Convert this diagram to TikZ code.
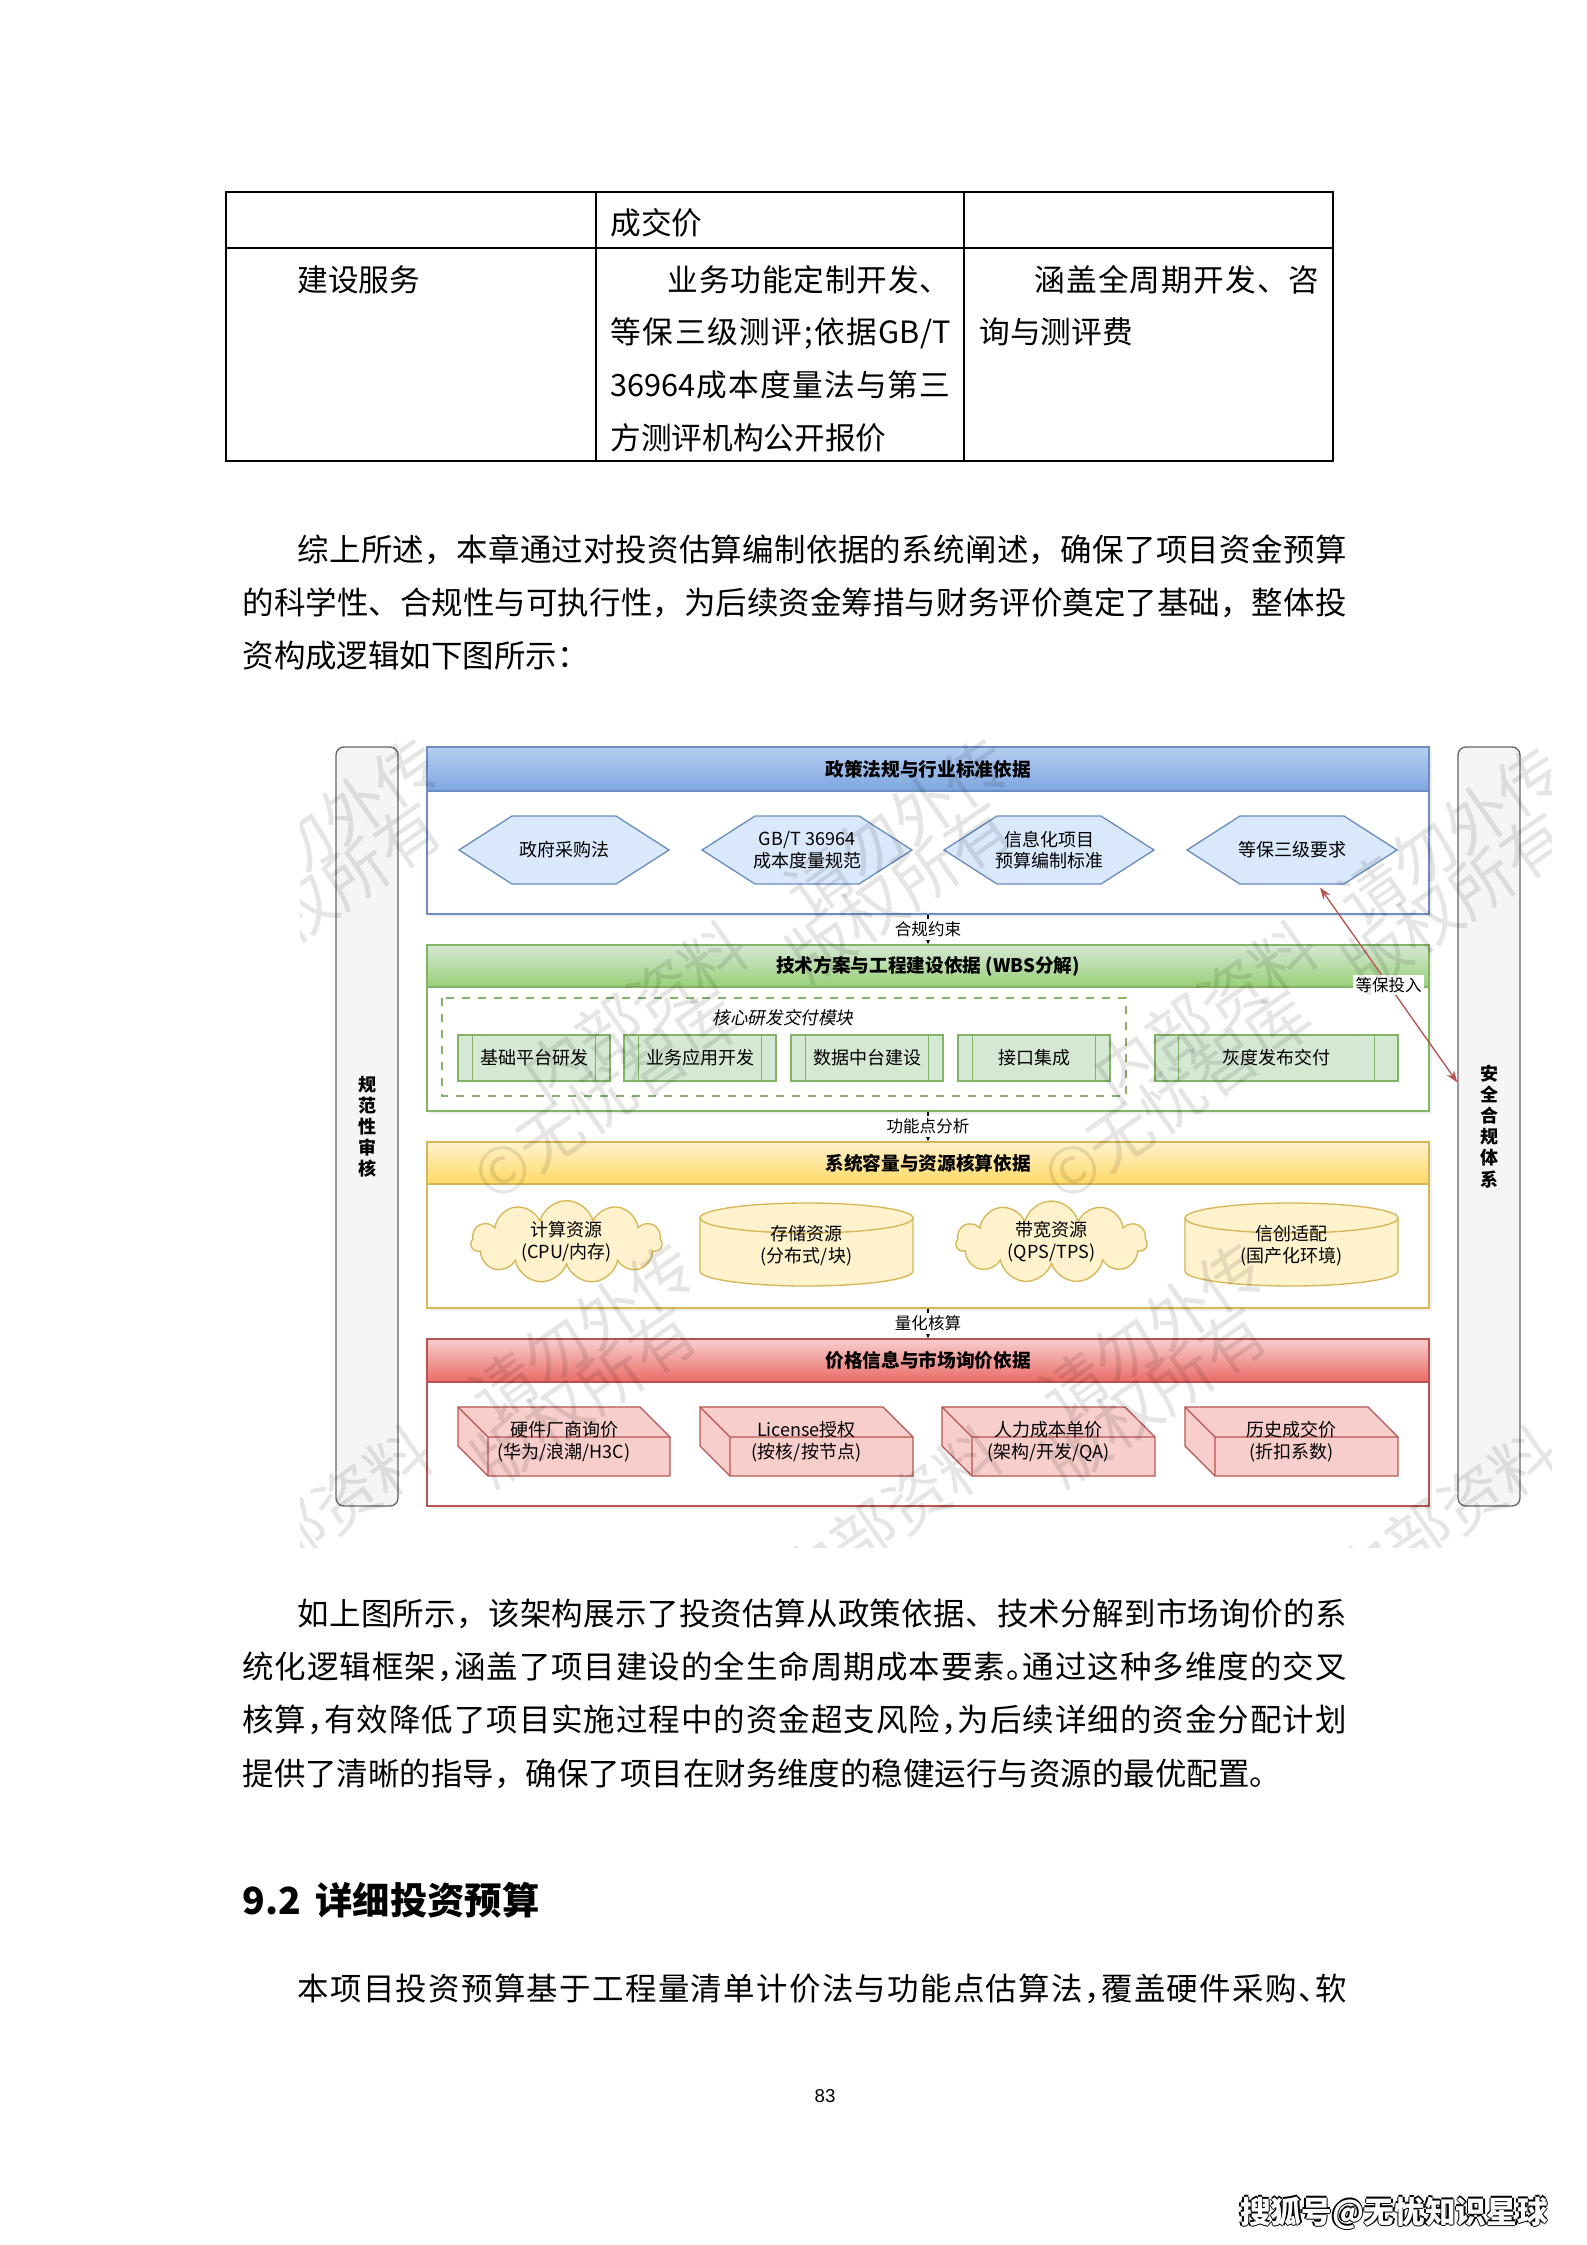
\documentclass[tikz,border=0pt]{standalone}
\usepackage{fontspec}
\setmainfont{Noto Sans CJK SC}
\newfontfamily\dsf{Noto Sans CJK SC}
\newfontfamily\dsfit{Noto Sans CJK SC}[FakeSlant=0.2]
\newfontfamily\lsans{Liberation Sans}
\usetikzlibrary{shapes.symbols,calc,arrows.meta,shadows}

\definecolor{bstroke}{HTML}{6C8EBF}\definecolor{bfill}{HTML}{DAE8FC}\definecolor{bgrad}{HTML}{7EA6E0}
\definecolor{gstroke}{HTML}{82B366}\definecolor{gfill}{HTML}{D5E8D4}\definecolor{ggrad}{HTML}{97D077}
\definecolor{ystroke}{HTML}{D6B656}\definecolor{yfill}{HTML}{FFF2CC}\definecolor{ygrad}{HTML}{FFD966}
\definecolor{rstroke}{HTML}{B85450}\definecolor{rfill}{HTML}{F8CECC}\definecolor{rgrad}{HTML}{EA6B66}
\definecolor{barfill}{HTML}{F5F5F5}\definecolor{barstroke}{HTML}{666666}

\makeatletter
\newcommand\jl[2]{\hbox to #1{\@tfor\jl@c:=#2\do{\jl@c\hfil}\unskip}}
\makeatother
\newcommand\hc{\makebox[0.5em][l]{，}}
\newcommand\hp{\makebox[0.5em][l]{。}}
\newcommand\hd{\makebox[0.5em][l]{、}}

\newcommand\hexshape[2]{\filldraw[fill=bfill,draw=bstroke,line width=0.5pt] (#1-105,#2) -- (#1-52,#2-34) -- (#1+52,#2-34) -- (#1+105,#2) -- (#1+52,#2+34) -- (#1-52,#2+34) -- cycle;}
\newcommand\cylshape[3]{%
  \filldraw[fill=yfill,draw=ystroke,line width=0.5pt] (#1-106.5,#2+15) -- (#1-106.5,#3-15) arc[start angle=180,end angle=360,x radius=39.94pt,y radius=5.625pt] -- (#1+106.5,#2+15) arc[start angle=0,end angle=180,x radius=39.94pt,y radius=5.625pt] -- cycle;
  \draw[ystroke,line width=0.5pt] (#1-106.5,#2+15) arc[start angle=180,end angle=360,x radius=39.94pt,y radius=5.625pt];}
\newcommand\cubeshape[4]{%
  \filldraw[fill=rfill,draw=rstroke,line width=0.5pt] (#1,#2) -- (#3-30,#2) -- (#3,#2+30) -- (#3,#4) -- (#1+30,#4) -- (#1,#4-30) -- cycle;
  \draw[rstroke,line width=0.5pt] (#1,#2) -- (#1+30,#2+30) -- (#3,#2+30) (#1+30,#2+30) -- (#1+30,#4);}
\newcommand\pinner[2]{\draw[gstroke,line width=0.5pt] ($(#1.north west)+(#2,0)$) -- ($(#1.south west)+(#2,0)$) ($(#1.north east)+(-#2,0)$) -- ($(#1.south east)+(-#2,0)$);}

\tikzset{
  bodytxt/.style={anchor=base west,inner sep=0pt,font=\fontsize{11.8}{20}\selectfont},
  tbltxt/.style={anchor=base west,inner sep=0pt,font=\fontsize{11.5}{19}\selectfont},
  tblline/.style={line width=0.55pt,black},
  barsty/.style={rectangle,rounded corners=3pt,fill=barfill,draw=barstroke,line width=0.5pt,align=center,inner sep=0pt,font=\dsf\bfseries\fontsize{6.75}{7.9}\selectfont},
  cbody/.style={rectangle,fill=white,line width=0.5pt,inner sep=0pt,minimum width={1002*0.375pt},drop shadow={opacity=0.12,shadow xshift=1.2pt,shadow yshift=-1.2pt}},
  chead/.style={rectangle,line width=0.5pt,inner sep=0pt,minimum width={1002*0.375pt},font=\dsf\bfseries\fontsize{7}{8}\selectfont},
  stext/.style={align=center,inner sep=0pt,font=\dsf\fontsize{6.75}{8.2}\selectfont},
  pbox/.style={rectangle,fill=gfill,draw=gstroke,line width=0.5pt,inner sep=0pt,minimum height={46*0.375pt},font=\dsf\fontsize{6.75}{8.2}\selectfont},
  cloudbox/.style={cloud,cloud puffs=11,cloud ignores aspect,fill=yfill,draw=ystroke,line width=0.5pt,minimum width={191*0.375pt},minimum height={66*0.375pt},align=center,inner sep=0pt,font=\dsf\fontsize{6.75}{8.2}\selectfont},
  conn/.style={line width=0.6pt,black,-{Stealth[length=3pt,width=2.6pt]}},
  clab/.style={fill=white,text=black,inner sep=1pt,font=\dsf\fontsize{6.2}{7}\selectfont},
  redconn/.style={line width=0.5pt,rstroke,{Stealth[length=4.5pt,width=3.2pt]}-{Stealth[length=4.5pt,width=3.2pt]}},
  wm/.style={anchor=west,rotate=35,inner sep=0pt,text=black,text opacity=0.1,font=\dsf\fontsize{24}{24}\selectfont},
  sohu/.style={inner sep=0pt,font=\dsf\bfseries\fontsize{11.5}{12}\selectfont}
}

\begin{document}
\begin{tikzpicture}[x=0.375pt,y=-0.375pt]
\useasboundingbox (0,0) rectangle (1587,2245);
\fill[white] (0,0) rectangle (1587,2245);

% ---------- table ----------
\draw[tblline] (226,192) rectangle (1333,461);
\draw[tblline] (226,248) -- (1333,248);
\draw[tblline] (596,192) -- (596,461);
\draw[tblline] (964,192) -- (964,461);
\node[tbltxt] (tc0) at (610,234.5) {成交价};
\node[tbltxt] (tc1) at (297,291.5) {建设服务};
\node[tbltxt] (tc2a) at (667,291.5) {\jl{106.1pt}{业务功能定制开发、}};
\node[tbltxt] (tc2b) at (610,343.5) {\jl{127.5pt}{等保三级测评;依据{GB/T}}};
\node[tbltxt] (tc2c) at (610,396.5) {\jl{127.5pt}{{36964}成本度量法与第三}};
\node[tbltxt] (tc2d) at (610,449.5) {方测评机构公开报价};
\node[tbltxt] (tc3a) at (1034,291.5) {\jl{106.9pt}{涵盖全周期开发、咨}};
\node[tbltxt] (tc3b) at (979,343.5) {询与测评费};

% ---------- paragraph 1 ----------
\node[bodytxt] (p1a) at (297,561) {\jl{393.4pt}{综上所述，本章通过对投资估算编制依据的系统阐述，确保了项目资金预算}};
\node[bodytxt] (p1b) at (242,614) {\jl{414pt}{的科学性、合规性与可执行性，为后续资金筹措与财务评价奠定了基础，整体投}};
\node[bodytxt] (p1c) at (242,667) {资构成逻辑如下图所示：};

% ---------- diagram ----------
\node[barsty,minimum width={62*0.375pt},minimum height={759*0.375pt}] (lbar) at (367,1126.5) {规\\范\\性\\审\\核};
\node[barsty,minimum width={62*0.375pt},minimum height={759*0.375pt}] (rbar) at (1489,1126.5) {安\\全\\合\\规\\体\\系};

% layer 1
\node[cbody,draw=bstroke,minimum height={167*0.375pt}] (c1) at (928,830.5) {};
\node[chead,draw=bstroke,top color=bfill!60!bgrad,bottom color=bgrad,minimum height={44*0.375pt}] (t1) at (928,769) {政策法规与行业标准依据};
\hexshape{564}{850}\hexshape{807}{850}\hexshape{1049}{850}\hexshape{1292}{850}
\node[stext,minimum width={210*0.375pt},minimum height={68*0.375pt}] (h1) at (564,850) {政府采购法};
\node[stext,minimum width={210*0.375pt},minimum height={68*0.375pt}] (h2) at (807,850) {GB/T 36964\\成本度量规范};
\node[stext,minimum width={210*0.375pt},minimum height={68*0.375pt}] (h3) at (1049,850) {信息化项目\\预算编制标准};
\node[stext,minimum width={210*0.375pt},minimum height={68*0.375pt}] (h4) at (1292,850) {等保三级要求};

% layer 2
\node[cbody,draw=gstroke,minimum height={166*0.375pt}] (c2) at (928,1028) {};
\node[chead,draw=gstroke,top color=gfill,bottom color=ggrad,minimum height={42*0.375pt}] (t2) at (928,966) {技术方案与工程建设依据 (WBS分解)};
\draw[gstroke,line width=0.5pt,dashed] (442,998) rectangle (1126,1096);
\node[inner sep=0pt,font=\dsfit\fontsize{6.6}{7}\selectfont] (dl) at (783,1018) {核心研发交付模块};
\node[pbox,minimum width={152*0.375pt}] (p1) at (534,1058) {基础平台研发};
\node[pbox,minimum width={152*0.375pt}] (p2) at (700,1058) {业务应用开发};
\node[pbox,minimum width={152*0.375pt}] (p3) at (867,1058) {数据中台建设};
\node[pbox,minimum width={152*0.375pt}] (p4) at (1034,1058) {接口集成};
\node[pbox,minimum width={243*0.375pt}] (p5) at (1276.5,1058) {灰度发布交付};
\pinner{p1}{15}\pinner{p2}{15}\pinner{p3}{15}\pinner{p4}{15}\pinner{p5}{24}

% layer 3
\node[cbody,draw=ystroke,minimum height={166*0.375pt}] (c3) at (928,1225) {};
\node[chead,draw=ystroke,top color=yfill,bottom color=ygrad,minimum height={42*0.375pt}] (t3) at (928,1163) {系统容量与资源核算依据};
\node[cloudbox] (r1) at (566.5,1242) {计算资源\\(CPU/内存)};
\cylshape{806.5}{1203}{1286}
\node[stext,minimum width={213*0.375pt},minimum height={60*0.375pt}] (s1) at (806.5,1246) {存储资源\\(分布式/块)};
\node[cloudbox] (r2) at (1051.5,1242) {带宽资源\\(QPS/TPS)};
\cylshape{1291.5}{1203}{1286}
\node[stext,minimum width={213*0.375pt},minimum height={60*0.375pt}] (s2) at (1291.5,1246) {信创适配\\(国产化环境)};

% layer 4
\node[cbody,draw=rstroke,minimum height={167*0.375pt}] (c4) at (928,1422.5) {};
\node[chead,draw=rstroke,top color=rfill,bottom color=rgrad,minimum height={43*0.375pt}] (t4) at (928,1360.5) {价格信息与市场询价依据};
\cubeshape{458}{1407}{670}{1476}
\cubeshape{700}{1407}{913}{1476}
\cubeshape{942}{1407}{1155}{1476}
\cubeshape{1185}{1407}{1398}{1476}
\node[stext] (k1) at (564,1442) {硬件厂商询价\\(华为/浪潮/H3C)};
\node[stext] (k2) at (806.5,1442) {License授权\\(按核/按节点)};
\node[stext] (k3) at (1048.5,1442) {人力成本单价\\(架构/开发/QA)};
\node[stext] (k4) at (1291.5,1442) {历史成交价\\(折扣系数)};

% connectors
\draw[conn] (c1.south) -- node[clab] {合规约束} (t2.north);
\draw[conn] (c2.south) -- node[clab] {功能点分析} (t3.north);
\draw[conn] (c3.south) -- node[clab] {量化核算} (t4.north);
\draw[redconn] ($(h4.south)+(28,3)$) -- node[clab,pos=0.5] {等保投入} ($(rbar.west)+(0,-44)$);

% watermark
\begin{scope}
\clip (300,709) rectangle (1551,1547);
\foreach \x/\y/\w [count=\i] in {530/1085/内部资料, 792/901/请勿外传, 480/1185/©无忧智库, 794/965/版权所有,
  1100/1085/内部资料, 1345/910/请勿外传, 1050/1185/©无忧智库, 1350/975/版权所有,
  222/901/请勿外传, 224/965/版权所有,
  215/1590/内部资料, 477/1406/请勿外传, 479/1470/版权所有,
  785/1590/内部资料, 1047/1406/请勿外传, 1049/1470/版权所有,
  1340/1590/内部资料} {
  \node[wm] (wm\i) at (\x,\y) {\w};
}
\end{scope}

% ---------- paragraph 2 ----------
\node[bodytxt] (q1) at (297,1625) {\jl{393.4pt}{如上图所示，该架构展示了投资估算从政策依据、技术分解到市场询价的系}};
\node[bodytxt] (q2) at (242,1678) {\jl{414pt}{统化逻辑框架\hc 涵盖了项目建设的全生命周期成本要素\hp 通过这种多维度的交叉}};
\node[bodytxt] (q3) at (242,1731) {\jl{414pt}{核算\hc 有效降低了项目实施过程中的资金超支风险\hc 为后续详细的资金分配计划}};
\node[bodytxt] (q4) at (242,1785) {提供了清晰的指导，确保了项目在财务维度的稳健运行与资源的最优配置。};

% ---------- heading ----------
\node[anchor=base west,inner sep=0pt,font=\dsf\bfseries\fontsize{14}{16}\selectfont] (hd1) at (242,1914) {9.2};
\node[anchor=base west,inner sep=0pt,font=\dsf\bfseries\fontsize{14}{16}\selectfont] (hd2) at (315,1914) {详细投资预算};

% ---------- paragraph 3 ----------
\node[bodytxt] (r3) at (297,2000) {\jl{393.4pt}{本项目投资预算基于工程量清单计价法与功能点估算法\hc 覆盖硬件采购\hd 软}};

% ---------- footer ----------
\node[anchor=base,inner sep=0pt,font=\lsans\fontsize{7}{8}\selectfont] (pg) at (825,2102) {83};
\node[sohu,text=black] (so1) at (1392.5,2213) {搜狐号@无忧知识星球};
\node[sohu,text=black] (so2) at (1395.5,2213) {搜狐号@无忧知识星球};
\node[sohu,text=black] (so3) at (1394,2211.5) {搜狐号@无忧知识星球};
\node[sohu,text=black] (so4) at (1394,2214.5) {搜狐号@无忧知识星球};
\node[sohu,text=white] (so5) at (1394,2213) {搜狐号@无忧知识星球};
\end{tikzpicture}
\end{document}
